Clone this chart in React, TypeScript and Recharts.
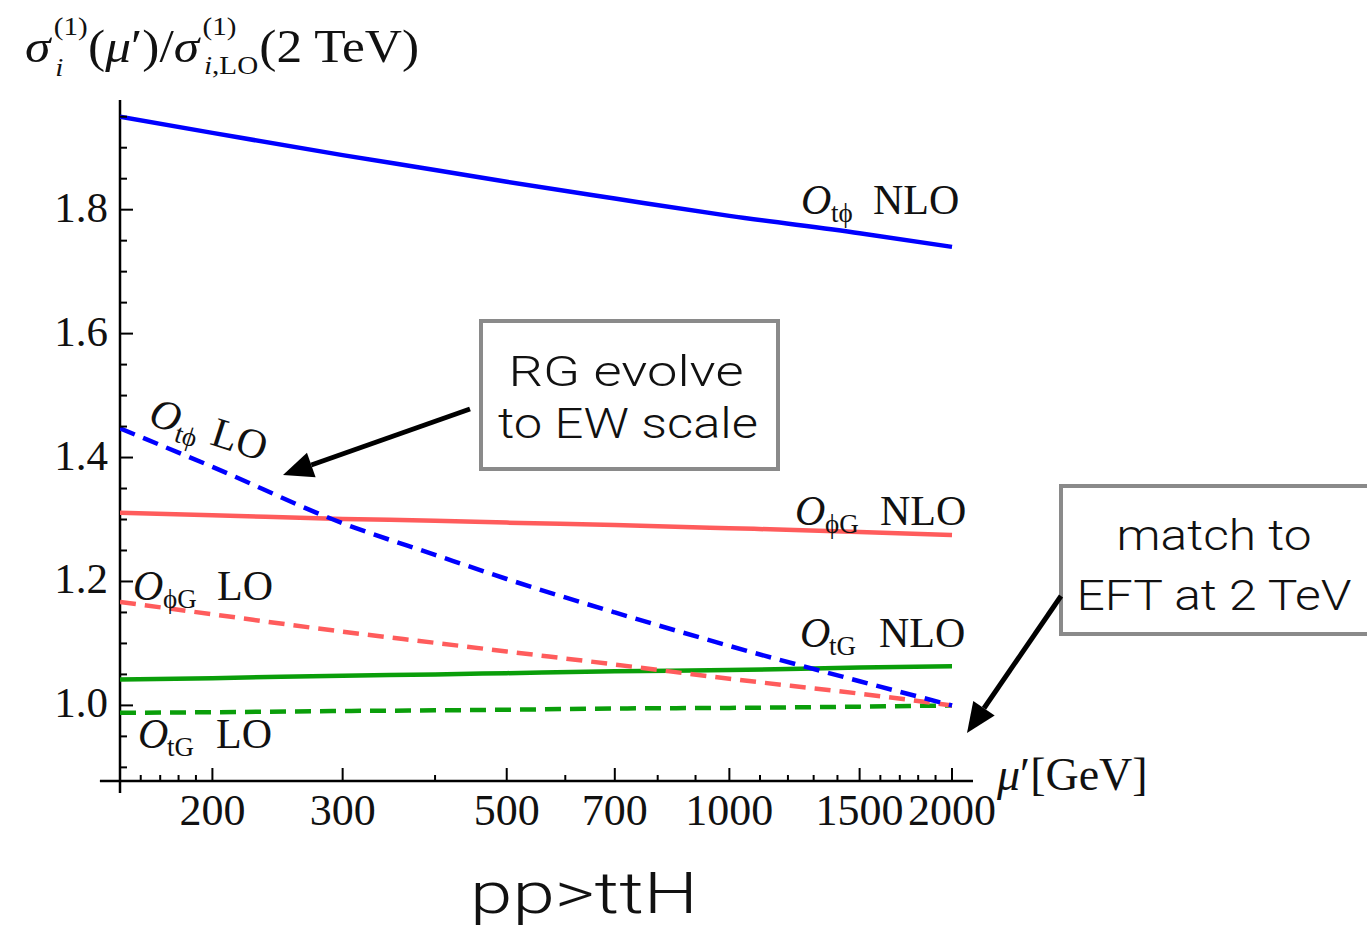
import React from "react";
import { LineChart, Line, XAxis, YAxis, ReferenceLine } from "recharts";

// renormalisation scale mu' in GeV
const scale = [150, 200, 300, 400, 500, 700, 1000, 1500, 2000];
// cross-section ratios per operator
const tphiNLO = [1.95, 1.924, 1.888, 1.864, 1.845, 1.818, 1.79, 1.762, 1.74];
const tphiLO = [1.447, 1.385, 1.294, 1.243, 1.204, 1.15, 1.096, 1.039, 1.0];
const phiGNLO = [1.311, 1.307, 1.301, 1.298, 1.295, 1.291, 1.286, 1.28, 1.275];
const phiGLO = [1.167, 1.147, 1.119, 1.101, 1.087, 1.066, 1.043, 1.019, 1.0];
const tGNLO = [1.042, 1.044, 1.048, 1.05, 1.052, 1.055, 1.057, 1.061, 1.063];
const tGLO = [0.988, 0.989, 0.991, 0.992, 0.993, 0.995, 0.996, 0.998, 1.0];

const xMajor = [200, 300, 500, 700, 1000, 1500, 2000];
const xMinor = [160, 170, 180, 190, 400, 600, 800, 900, 1100, 1200, 1300, 1400, 1600, 1700, 1800, 1900];
const yMajor = [1.0, 1.2, 1.4, 1.6, 1.8];
const yMinor = [0.9, 0.95, 1.05, 1.1, 1.15, 1.25, 1.3, 1.35, 1.45, 1.5, 1.55, 1.65, 1.7, 1.75, 1.85, 1.9, 1.95];

const X_MIN = 150;
const X_MAX = 2135;
const Y_MIN = 0.878;
const Y_MAX = 1.977;

const SERIF = "'Liberation Serif', 'DejaVu Serif', serif";
const SANS = "Roboto, 'Open Sans', 'Liberation Sans', sans-serif";

const BLUE = "#0000ff";
const RED = "#ff5c5c";
const GREEN = "#0a9e0a";

const data = scale.map((mu, i) => ({
  mu,
  tphiNLO: tphiNLO[i],
  tphiLO: tphiLO[i],
  phiGNLO: phiGNLO[i],
  phiGLO: phiGLO[i],
  tGNLO: tGNLO[i],
  tGLO: tGLO[i],
}));

function YTick(props: any) {
  const { x, y, payload } = props;
  const v = payload.value as number;
  const major = yMajor.some((m) => Math.abs(m - v) < 1e-6);
  return (
    <g>
      <line x1={x} x2={x + (major ? 13 : 7)} y1={y} y2={y} stroke="#000" strokeWidth={2} />
      {major && (
        <text x={x - 12} y={y + 12} textAnchor="end" fontFamily={SERIF} fontSize={43} fill="#111">
          {v.toFixed(1)}
        </text>
      )}
    </g>
  );
}

function XTick(props: any) {
  const { x, y, payload } = props;
  const v = payload.value as number;
  const major = xMajor.includes(v);
  return (
    <g>
      <line x1={x} x2={x} y1={y} y2={y - (major ? 13 : 6)} stroke="#000" strokeWidth={2} />
      {major && (
        <text x={x} y={y + 44} textAnchor="middle" fontFamily={SERIF} fontSize={44} fill="#111">
          {v}
        </text>
      )}
    </g>
  );
}

// operator label: italic O, small subscript, then "NLO"/"LO"
function OpLabel({ oX, subX, tailX, y, sub, tail }: any) {
  return (
    <g fontFamily={SERIF} fill="#111">
      <text x={oX} y={y} fontSize={42} fontStyle="italic">O</text>
      <text x={subX} y={y + 8} fontSize={27}>{sub}</text>
      <text x={tailX} y={y} fontSize={42}>{tail}</text>
    </g>
  );
}

function Arrow({ x1, y1, x2, y2 }: any) {
  const dx = x2 - x1;
  const dy = y2 - y1;
  const len = Math.hypot(dx, dy);
  const ux = dx / len;
  const uy = dy / len;
  const bx = x2 - 30 * ux;
  const by = y2 - 30 * uy;
  const nx = uy;
  const ny = -ux;
  const pts = `${x2},${y2} ${bx + 13 * nx},${by + 13 * ny} ${bx - 13 * nx},${by - 13 * ny}`;
  return (
    <g>
      <line x1={x1} y1={y1} x2={bx} y2={by} stroke="#000" strokeWidth={5} />
      <polygon points={pts} fill="#000" />
    </g>
  );
}

function BoxText({ x, y, width, children }: any) {
  return (
    <text
      x={x}
      y={y}
      fontFamily={SANS}
      fontWeight={300}
      fontSize={43}
      fill="#111"
      textAnchor="middle"
      textLength={width}
      lengthAdjust="spacingAndGlyphs"
    >
      {children}
    </text>
  );
}

export default function App() {
  const allXTicks = [...xMajor, ...xMinor].sort((a, b) => a - b);
  const allYTicks = [...yMajor, ...yMinor].sort((a, b) => a - b);
  return (
    <div style={{ position: "absolute", left: 0, top: 0, width: 1367, height: 933, background: "#fff" }}>
      <LineChart width={1367} height={933} data={data} margin={{ top: 100, right: 394, bottom: 112, left: 60 }}>
        <XAxis
          dataKey="mu"
          type="number"
          scale="log"
          domain={[X_MIN, X_MAX]}
          allowDataOverflow
          ticks={allXTicks}
          interval={0}
          height={40}
          tickSize={0}
          tickMargin={0}
          tickLine={false}
          axisLine={false}
          tick={(p: any) => <XTick {...p} />}
        />
        <YAxis
          type="number"
          domain={[Y_MIN, Y_MAX]}
          allowDataOverflow
          ticks={allYTicks}
          interval={0}
          width={60}
          tickSize={0}
          tickMargin={0}
          tickLine={false}
          axisLine={false}
          tick={(p: any) => <YTick {...p} />}
        />
        <ReferenceLine
          segment={[{ x: 140.9, y: Y_MIN }, { x: X_MAX, y: Y_MIN }]}
          stroke="#000"
          strokeWidth={2.5}
          ifOverflow="visible"
        />
        <ReferenceLine
          segment={[{ x: X_MIN, y: 0.8587 }, { x: X_MIN, y: Y_MAX }]}
          stroke="#000"
          strokeWidth={2.5}
          ifOverflow="visible"
        />
        <Line dataKey="tphiNLO" type="monotone" stroke={BLUE} strokeWidth={4.5} dot={false} isAnimationActive={false} />
        <Line dataKey="phiGNLO" type="monotone" stroke={RED} strokeWidth={4.5} dot={false} isAnimationActive={false} />
        <Line dataKey="tGNLO" type="monotone" stroke={GREEN} strokeWidth={4.5} dot={false} isAnimationActive={false} />
        <Line dataKey="tGLO" type="monotone" stroke={GREEN} strokeWidth={4.5} strokeDasharray="16 9" dot={false} isAnimationActive={false} />
        <Line dataKey="phiGLO" type="monotone" stroke={RED} strokeWidth={4.5} strokeDasharray="16 9" dot={false} isAnimationActive={false} />
        <Line dataKey="tphiLO" type="monotone" stroke={BLUE} strokeWidth={4.5} strokeDasharray="16 9" dot={false} isAnimationActive={false} />
      </LineChart>

      <svg
        width={1367}
        height={933}
        style={{ position: "absolute", left: 0, top: 0, pointerEvents: "none" }}
      >
        {/* y-axis title, stretched a little to the printed width */}
        <text transform="translate(25 62) scale(1.12 1)" fontFamily={SERIF} fontSize={46} fill="#111">
          <tspan fontStyle="italic">σ</tspan>
          <tspan dx={3} dy={-27} fontSize={26}>(1)</tspan>
          <tspan dx={-29} dy={41} fontSize={26} fontStyle="italic">i</tspan>
          <tspan dx={22} dy={-14}>(</tspan>
          <tspan fontStyle="italic">μ</tspan>
          <tspan>′)/</tspan>
          <tspan fontStyle="italic">σ</tspan>
          <tspan dx={3} dy={-27} fontSize={26}>(1)</tspan>
          <tspan dx={-29} dy={39} fontSize={26} fontStyle="italic">i</tspan>
          <tspan fontSize={26}>,LO</tspan>
          <tspan dx={1} dy={-12}>(2 TeV)</tspan>
        </text>

        {/* x-axis title */}
        <text x={997} y={790} fontFamily={SERIF} fontSize={46} fill="#111">
          <tspan fontStyle="italic">μ</tspan>′[GeV]
        </text>

        {/* curve labels */}
        <OpLabel oX={801} subX={831} tailX={873} y={214} sub="tϕ" tail="NLO" />
        <OpLabel oX={795} subX={825} tailX={880} y={525} sub="ϕG" tail="NLO" />
        <OpLabel oX={800} subX={829} tailX={879} y={647} sub="tG" tail="NLO" />
        <OpLabel oX={133} subX={163} tailX={217} y={600} sub="ϕG" tail="LO" />
        <OpLabel oX={138} subX={167} tailX={216} y={748} sub="tG" tail="LO" />
        <g transform="rotate(18 147 424)">
          <OpLabel oX={147} subX={177} tailX={212} y={424} sub="tϕ" tail="LO" />
        </g>

        {/* annotations */}
        <rect x={481} y={321} width={297} height={148} fill="#fff" stroke="#8a8a8a" strokeWidth={4} />
        <BoxText x={626} y={386} width={235}>RG evolve</BoxText>
        <BoxText x={628} y={438} width={260}>to EW scale</BoxText>
        <Arrow x1={470} y1={409} x2={283} y2={475} />

        <rect x={1061} y={486} width={312} height={148} fill="#fff" stroke="#8a8a8a" strokeWidth={4} />
        <BoxText x={1214} y={550} width={195}>match to</BoxText>
        <BoxText x={1214} y={610} width={275}>EFT at 2 TeV</BoxText>
        <Arrow x1={1061} y1={596} x2={967} y2={733} />

        <text
          x={470}
          y={913}
          fontFamily={SANS}
          fontWeight={300}
          fontSize={58}
          fill="#111"
          textLength={228}
          lengthAdjust="spacingAndGlyphs"
        >
          pp&gt;ttH
        </text>
      </svg>
    </div>
  );
}
